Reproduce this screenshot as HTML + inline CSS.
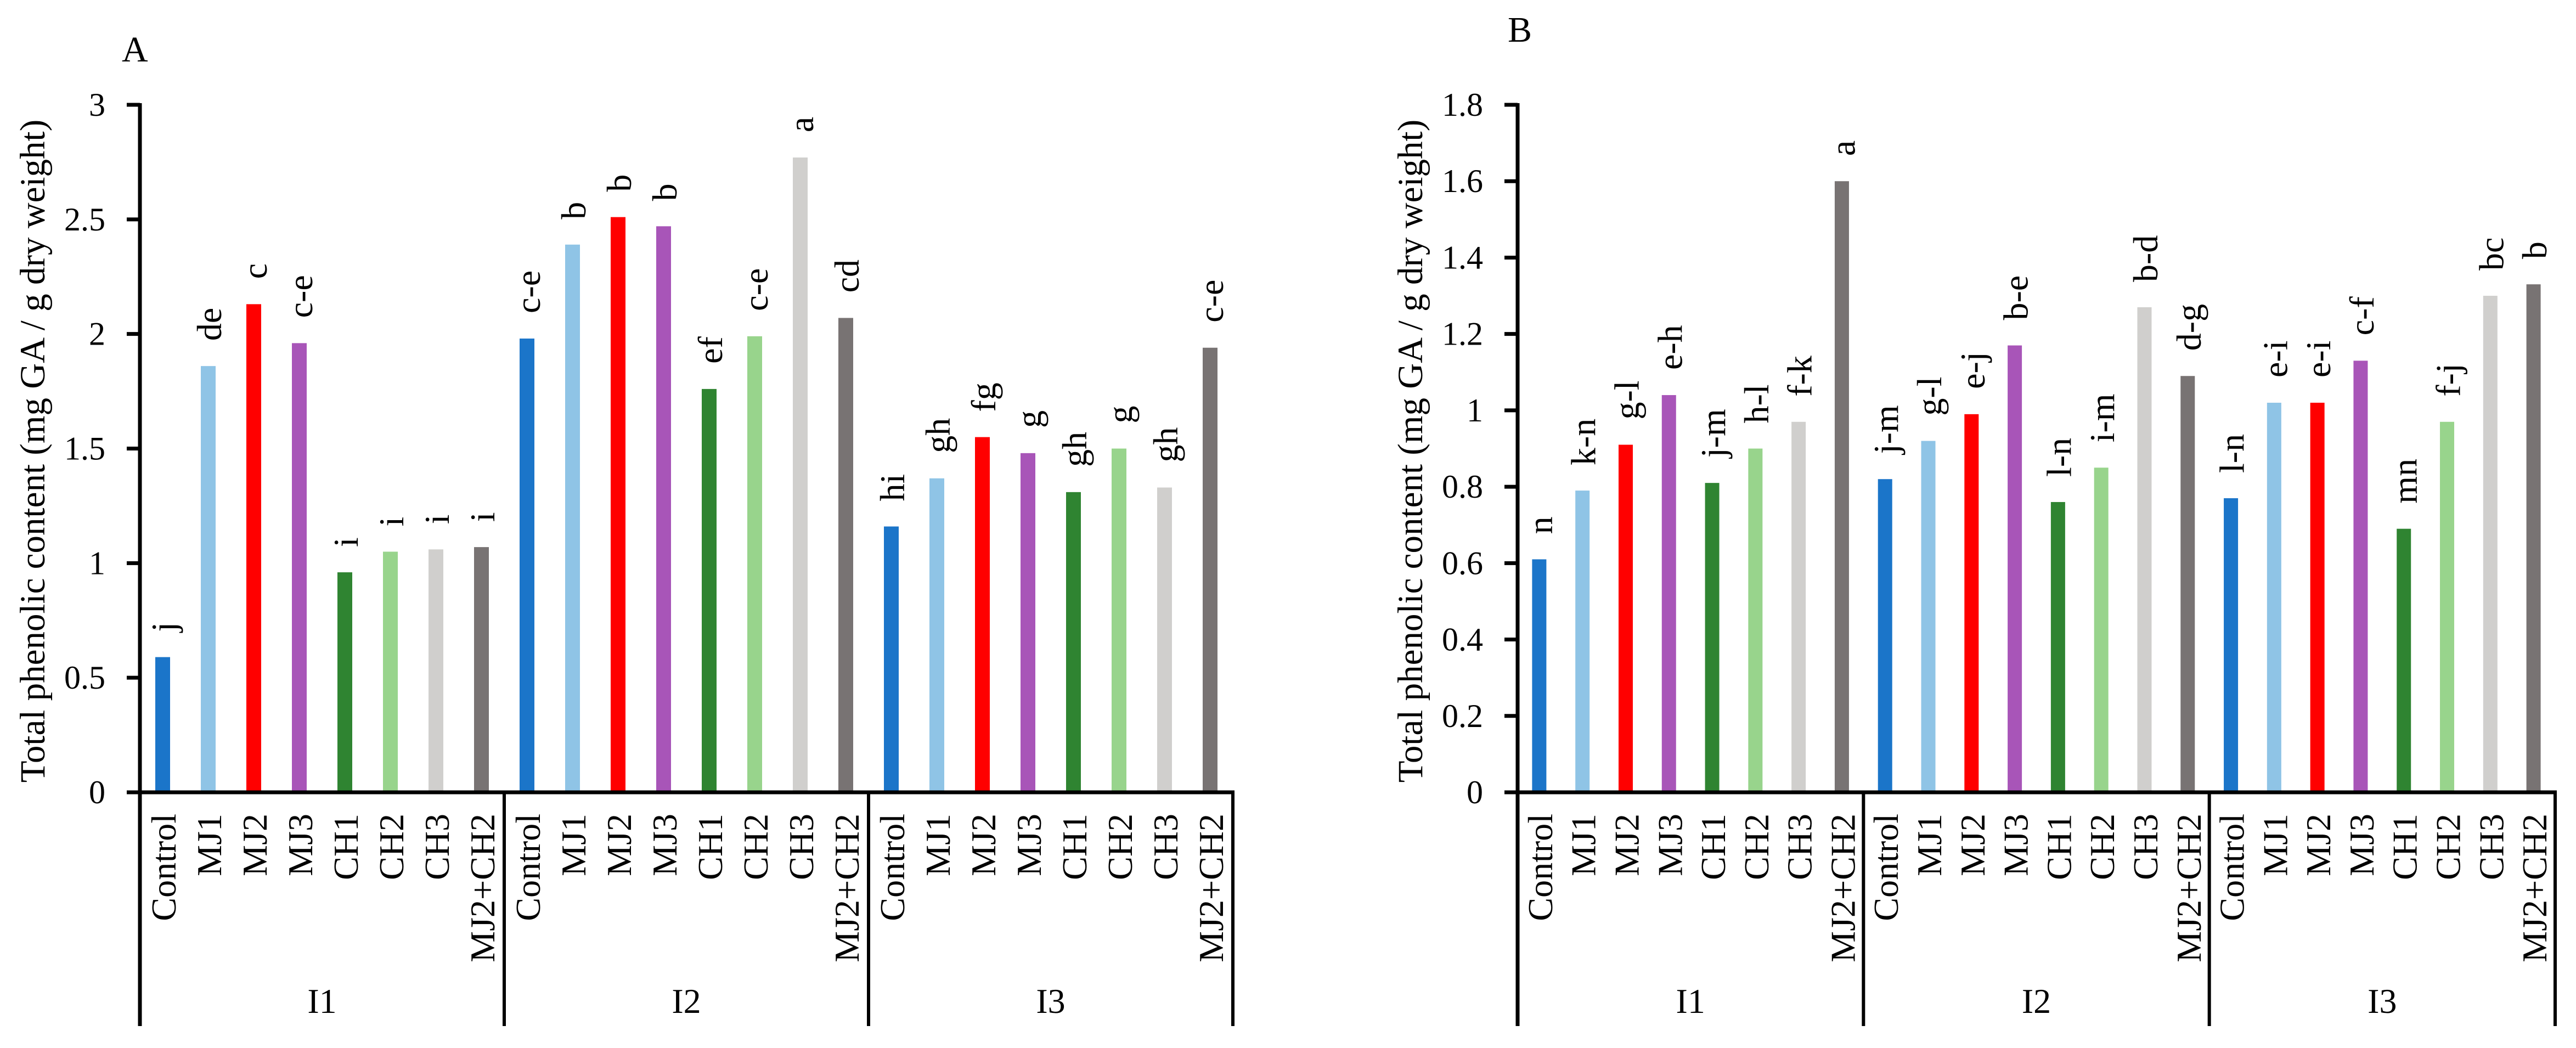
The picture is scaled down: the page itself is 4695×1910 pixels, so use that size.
<!DOCTYPE html>
<html><head><meta charset="utf-8"><style>
html,body{margin:0;padding:0;background:#fff;}
svg{display:block;font-family:"Liberation Serif",serif;}
</style></head><body>
<svg id="chart" width="4695" height="1910" viewBox="0 0 4695 1910" xmlns="http://www.w3.org/2000/svg"></svg>
<script>
const categories = ["Control","MJ1","MJ2","MJ3","CH1","CH2","CH3","MJ2+CH2"];
const groups = ["I1","I2","I3"];
const colors = ["#1b75c9","#8fc4e6","#ff0000","#a855b8","#2f8431","#98d48c","#d0cfcd","#787373"];
const valuesA = [0.59,1.86,2.13,1.96,0.96,1.05,1.06,1.07, 1.98,2.39,2.51,2.47,1.76,1.99,2.77,2.07, 1.16,1.37,1.55,1.48,1.31,1.50,1.33,1.94];
const lettersA = ["j","de","c","c-e","i","i","i","i", "c-e","b","b","b","ef","c-e","a","cd", "hi","gh","fg","g","gh","g","gh","c-e"];
const ticksA = [0,0.5,1,1.5,2,2.5,3];
const tickLabelsA = ["0","0.5","1","1.5","2","2.5","3"];
const valuesB = [0.61,0.79,0.91,1.04,0.81,0.90,0.97,1.60, 0.82,0.92,0.99,1.17,0.76,0.85,1.27,1.09, 0.77,1.02,1.02,1.13,0.69,0.97,1.30,1.33];
const lettersB = ["n","k-n","g-l","e-h","j-m","h-l","f-k","a", "j-m","g-l","e-j","b-e","l-n","i-m","b-d","d-g", "l-n","e-i","e-i","c-f","mn","f-j","bc","b"];
const ticksB = [0,0.2,0.4,0.6,0.8,1,1.2,1.4,1.6,1.8];
const tickLabelsB = ["0","0.2","0.4","0.6","0.8","1","1.2","1.4","1.6","1.8"];

const NS = "http://www.w3.org/2000/svg";
const svg = document.getElementById("chart");
function mk(tag, attrs, parent, text) {
  const e = document.createElementNS(NS, tag);
  for (const k in attrs) e.setAttribute(k, attrs[k]);
  if (text !== undefined) e.textContent = text;
  (parent || svg).appendChild(e);
  return e;
}

function panel(id, letter, letterX, letterY, axisX, rightX, maxV, ticks, tickLabels, values, letters, barW) {
  const g = mk("g", {});
  
  
  const y0 = 1444, yTop = 191, yBottom = 1870;
  const yScale = v => y0 - (v / maxV) * (y0 - yTop);
  const n = values.length;
  const slot = (rightX - axisX) / n;
  const xCenter = i => axisX + slot * (i + 0.5);

  const pl = mk("text", {x: letterX, y: letterY, "font-size": 66}, g, letter);
  
  

  for (let i = 0; i < n; i++) {
    const c = i % 8;
    const top = yScale(values[i]);
    const r = mk("rect", {x: xCenter(i) - barW / 2, y: top, width: barW, height: y0 - top, fill: colors[c]}, g);
    
    
    const lx = xCenter(i) + 2, ly = top - 46;
    const t = mk("text", {x: lx, y: ly, "font-size": 64, "text-anchor": "start", "dominant-baseline": "central", transform: "rotate(-90 " + lx + " " + ly + ")"}, g, letters[i]);
    
    
    const cx = xCenter(i) + 2, cy = 1483;
    const cl = mk("text", {x: cx, y: cy, "font-size": 64, "text-anchor": "end", "dominant-baseline": "central", transform: "rotate(-90 " + cx + " " + cy + ")"}, g, categories[c]);
    
    
  }

  for (let k = 0; k < ticks.length; k++) {
    const ty = yScale(ticks[k]);
    const tl = mk("line", {x1: axisX - 24, x2: axisX, y1: ty, y2: ty, stroke: "#000", "stroke-width": 7}, g);
    
    
    const lab = mk("text", {x: axisX - 63, y: ty, "font-size": 60, "text-anchor": "end", "dominant-baseline": "central"}, g, tickLabels[k]);
    
    
  }

  const ya = mk("line", {x1: axisX, x2: axisX, y1: yTop - 3, y2: yBottom, stroke: "#000", "stroke-width": 7}, g);
  
  
  const xa = mk("line", {x1: axisX - 24, x2: rightX + 3, y1: y0, y2: y0, stroke: "#000", "stroke-width": 7}, g);
  
  

  for (let gi = 0; gi < groups.length; gi++) {
    const xr = axisX + slot * 8 * (gi + 1);
    const d = mk("line", {x1: xr, x2: xr, y1: y0, y2: yBottom, stroke: "#000", "stroke-width": 6}, g);
    
    
    const gx = axisX + slot * 8 * (gi + 0.5);
    const gl = mk("text", {x: gx, y: 1846, "font-size": 64, "text-anchor": "middle"}, g, groups[gi]);
    
    
  }

  const tx = axisX - 195, tyc = 822;
  const title = mk("text", {x: tx, y: tyc, "font-size": 65, "text-anchor": "middle", "dominant-baseline": "central", transform: "rotate(-90 " + tx + " " + tyc + ")"}, g, "Total phenolic content (mg GA / g dry weight)");
  
  
}

panel("a", "A", 222, 112, 255, 2247, 3, ticksA, tickLabelsA, valuesA, lettersA, 27);
panel("b", "B", 2748, 76, 2766, 4657, 1.8, ticksB, tickLabelsB, valuesB, lettersB, 26);
</script>
</body></html>
